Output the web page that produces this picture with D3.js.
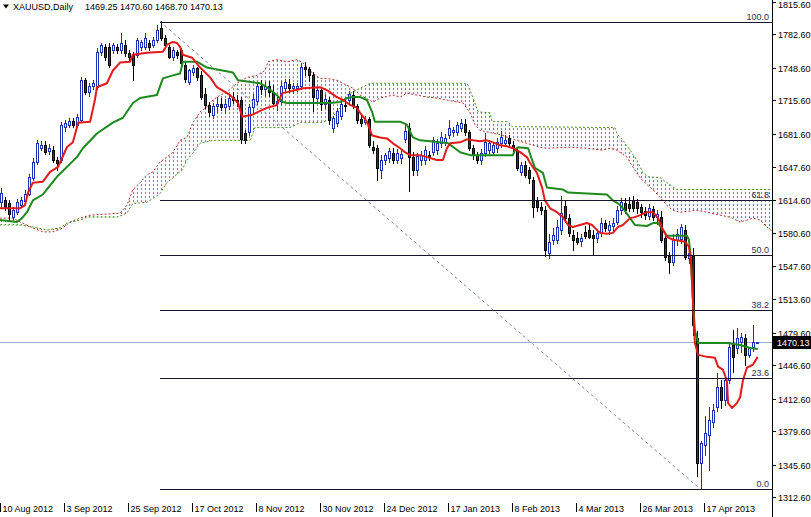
<!DOCTYPE html>
<html><head><meta charset="utf-8">
<script src="https://cdn.jsdelivr.net/npm/d3@7"></script>
<style>
html,body{margin:0;padding:0;background:#fff;}
svg{display:block;}
text{font-family:"Liberation Sans",Arial,sans-serif;}
</style></head><body>
<svg id="chart" width="811" height="517"></svg>
<script>
const symbolName = "XAUUSD,Daily";
const lastQuote = [1469.25, 1470.60, 1468.70, 1470.13];

const open = [1612,1614,1611,1597,1602,1609,1613,1621,1637,1653, 1667,1670,1664,1665,1655,1655,1689,1691,1695,1691, 1696,1736,1724,1730,1729,1765,1770,1770,1767,1770, 1767,1772,1764,1762,1762,1770,1770,1774,1772,1777, 1789,1779,1770,1760,1765,1767,1752,1734,1744,1749, 1741,1722,1711,1701,1710,1712,1709,1710,1719,1716, 1716,1682,1683,1709,1715,1730,1727,1730,1724,1713, 1715,1728,1732,1728,1728,1730,1750,1748,1741,1718, 1726,1712,1716,1688,1693,1700,1711,1716,1721,1710, 1697,1694,1697,1668,1667,1645,1655,1657,1662,1655, 1657,1676,1688,1658,1645,1655,1655,1660,1663,1665, 1672,1673,1680,1683,1683,1688,1692,1683,1667,1660, 1655,1662,1665,1663,1667,1672,1672,1677,1670,1665, 1643,1650,1645,1635,1613,1607,1604,1561,1574,1574, 1584,1608,1596,1579,1576,1573,1582,1584,1579,1576, 1581,1591,1584,1588,1592,1604,1611,1610,1614,1612, 1607,1603,1598,1605,1597,1597,1576,1558,1551,1574, 1575,1584,1555,1558,1474,1347,1365,1376,1389,1404, 1424,1411,1431,1467,1464,1470,1474,1457,1465,1469.25];
const high = [1627,1617,1614,1607,1615,1617,1625,1641,1657,1675, 1674,1674,1671,1669,1658,1694,1696,1698,1698,1702, 1739,1738,1733,1736,1769,1774,1773,1774,1774,1773, 1784,1777,1767,1765,1779,1777,1784,1777,1780,1792, 1796,1782,1772,1770,1767,1769,1756,1748,1752,1750, 1745,1728,1714,1713,1719,1718,1717,1721,1724,1721, 1719,1686,1712,1722,1733,1736,1734,1735,1731,1720, 1735,1737,1737,1733,1733,1754,1755,1750,1744,1730, 1729,1722,1719,1700,1708,1714,1717,1725,1725,1712, 1701,1700,1699,1674,1670,1660,1662,1667,1667,1666, 1665,1691,1693,1663,1662,1664,1669,1664,1678,1676, 1683,1681,1696,1689,1694,1697,1697,1686,1670,1663, 1666,1682,1675,1673,1677,1685,1680,1680,1674,1668, 1653,1654,1648,1638,1617,1612,1608,1580,1586,1594, 1618,1614,1600,1584,1582,1580,1588,1590,1584,1585, 1596,1594,1593,1596,1608,1616,1616,1617,1618,1615, 1610,1607,1610,1608,1604,1603,1580,1562,1580,1585, 1590,1589,1568,1566,1481,1370,1395,1404,1407,1439, 1431,1437,1470,1482,1484,1479,1478,1465,1487,1470.60];
const low = [1607,1604,1594,1595,1600,1607,1611,1619,1635,1651, 1665,1661,1661,1653,1645,1653,1685,1689,1689,1689, 1695,1722,1720,1727,1727,1762,1757,1750,1764,1764, 1764,1761,1757,1736,1760,1767,1768,1767,1770,1775, 1777,1769,1759,1757,1759,1752,1734,1732,1741,1736, 1717,1708,1700,1698,1704,1706,1703,1707,1713,1710, 1672,1672,1680,1703,1712,1722,1720,1720,1710,1706, 1712,1724,1724,1723,1725,1727,1741,1735,1705,1714, 1706,1708,1692,1683,1690,1697,1705,1712,1708,1693, 1690,1692,1668,1662,1635,1637,1651,1653,1652,1652, 1652,1673,1624,1640,1640,1650,1651,1655,1660,1661, 1668,1670,1677,1679,1680,1685,1680,1665,1656,1652, 1651,1659,1661,1660,1663,1668,1669,1668,1664,1645, 1640,1638,1632,1597,1603,1600,1558,1555,1570,1571, 1580,1592,1578,1564,1570,1568,1576,1576,1560,1572, 1578,1583,1580,1584,1590,1600,1601,1603,1603,1601, 1597,1595,1595,1594,1590,1572,1553,1540,1548,1569, 1571,1554,1550,1477,1334,1321,1355,1340,1384,1400, 1403,1406,1428,1440,1459,1460,1447,1455,1461,1468.70];
const close = [1622,1606,1600,1604,1612,1614,1621,1638,1653,1672, 1670,1663,1667,1655,1652,1691,1693,1695,1691,1699, 1736,1724,1730,1733,1765,1772,1760,1752,1772,1767, 1774,1764,1760,1752,1777,1775,1779,1770,1777,1787, 1779,1772,1760,1767,1762,1754,1737,1746,1749,1739, 1719,1711,1704,1710,1712,1709,1712,1718,1716,1714, 1676,1675,1709,1717,1730,1727,1730,1724,1713,1715, 1730,1734,1728,1730,1730,1750,1748,1741,1719,1726, 1712,1717,1696,1698,1705,1712,1710,1722,1710,1696, 1693,1696,1670,1665,1647,1655,1660,1664,1655,1662, 1661,1685,1658,1645,1659,1660,1665,1658,1675,1672, 1678,1677,1688,1686,1691,1693,1684,1667,1660,1655, 1662,1673,1672,1670,1673,1678,1675,1672,1668,1647, 1650,1640,1637,1607,1607,1604,1564,1572,1579,1587, 1601,1596,1581,1574,1572,1576,1578,1577,1576,1581, 1591,1586,1589,1591,1604,1612,1604,1606,1606,1606, 1602,1599,1606,1597,1600,1574,1556,1551,1574,1580, 1587,1556,1561,1487,1347,1367,1378,1391,1401,1424, 1411,1431,1465,1455,1474,1475,1457,1465,1470,1470.13];

const timeTickBars = [0,16,32,48,64,80,96,112,128,144,160,176];
const timeTickLabels = ["10 Aug 2012","3 Sep 2012","25 Sep 2012","17 Oct 2012","8 Nov 2012","30 Nov 2012","24 Dec 2012","17 Jan 2013","8 Feb 2013","4 Mar 2013","26 Mar 2013","17 Apr 2013"];
const priceTicks = [1815.60,1782.60,1748.60,1715.60,1681.60,1647.60,1614.60,1580.60,1547.60,1513.60,1479.60,1446.60,1412.60,1379.60,1345.60,1312.60];

// Ichimoku lines: [bar, price]
const tenkan = [[-0.5,1606],[4.6,1606],[5.8,1609],[6.6,1622],[7.8,1632],[10.3,1633],[12.1,1643],[14.1,1648],[16.3,1668],[17.8,1673],[19.1,1693],[22.1,1694],[23.3,1716],[23.8,1729],[26.3,1733],[27.8,1746],[29.6,1754],[32.1,1755],[32.8,1762],[36.3,1764],[40.3,1765],[41.3,1772],[42.8,1775],[43.8,1774],[44.6,1770],[45.3,1762],[47.6,1759],[49.6,1749],[52.1,1739],[53.8,1729],[56.3,1723],[57.1,1721],[59.1,1713],[60.1,1699],[62.6,1701],[64.1,1704],[66.3,1708],[68.8,1711],[69.6,1718],[70.1,1723],[71.3,1724],[73.3,1726],[75.3,1728],[79.6,1729],[81.3,1726],[83.8,1719],[85.3,1716],[87.1,1711],[88.8,1708],[89.6,1703],[91.3,1694],[92.6,1680],[94.6,1678],[96.3,1677],[97.8,1672],[99.6,1667],[100.8,1663],[102.1,1660],[104.6,1660],[106.3,1658],[108.8,1655],[110.3,1655],[111.3,1667],[112.1,1672],[114.6,1673],[116.3,1676],[119.6,1674],[121.3,1675],[122.8,1673],[124.6,1670],[126.3,1669],[127.8,1667],[129.6,1663],[131.3,1658],[132.1,1652],[133.8,1642],[135.1,1627],[135.8,1614],[137.1,1606],[138.8,1602],[140.3,1597],[141.6,1589],[142.8,1587],[144.6,1589],[146.3,1591],[147.6,1589],[148.8,1584],[149.6,1581],[151.3,1580],[152.8,1581],[154.1,1587],[155.3,1589],[157.1,1596],[158.3,1597],[159.6,1599],[161.3,1602],[162.8,1602],[164.1,1596],[165.1,1586],[166.3,1577],[167.8,1574],[169.6,1573],[170.8,1572],[171.8,1567],[172.3,1553],[172.8,1513],[173.3,1469],[174.1,1457],[176.3,1455],[178.3,1454],[179.1,1445],[180.3,1442],[181.3,1431],[181.6,1408],[182.6,1403],[183.8,1408],[184.6,1414],[185.3,1431],[186.3,1444],[187.8,1447],[189,1455]];
const kijun = [[-0.5,1594],[3.8,1592],[5.1,1596],[6.3,1602],[7.8,1614],[10.3,1620],[13.8,1638],[18.8,1658],[20.3,1667],[23.8,1682],[27.8,1693],[30.3,1698],[32.8,1713],[34.6,1718],[38.8,1721],[40.3,1738],[42.8,1741],[44.6,1743],[45.3,1755],[48.8,1755],[51.3,1749],[57.8,1744],[59.1,1736],[64.6,1733],[66.3,1729],[68.8,1721],[70.3,1714],[71.3,1713],[82.1,1713],[84.6,1714],[86.3,1718],[87.8,1719],[89.6,1719],[91.3,1716],[92.6,1704],[93.3,1694],[99.6,1694],[101.3,1691],[102.8,1678],[104.6,1675],[109.6,1673],[111.6,1672],[113.3,1667],[114.6,1663],[117.1,1660],[127.8,1660],[128.3,1665],[129.1,1668],[131.6,1667],[132.6,1655],[133.3,1647],[135.3,1642],[136.3,1627],[140.3,1625],[141.6,1622],[146.3,1621],[151.3,1620],[152.8,1614],[154.1,1611],[155.3,1606],[157.1,1596],[158.3,1589],[161.3,1588],[162.8,1591],[164.1,1591],[165.3,1584],[166.3,1578],[171.3,1578],[171.8,1574],[172.3,1556],[172.8,1513],[173.3,1482],[174.1,1469],[181.3,1469],[184.6,1467],[187.1,1464],[189,1463]];
const spanA = [[-0.5,1596],[2.8,1596],[4.6,1592],[7.8,1586],[10.3,1582],[12.8,1582],[15.3,1586],[17.1,1592],[19.6,1596],[22.1,1599],[29.6,1601],[31.3,1609],[32.8,1625],[34.6,1632],[36.3,1640],[37.8,1643],[39.6,1653],[41.3,1658],[42.8,1663],[44.6,1675],[46.3,1678],[47.8,1693],[49.6,1704],[51.3,1709],[52.8,1716],[54.6,1721],[56.3,1724],[58.8,1733],[61.3,1739],[63.8,1741],[65.8,1746],[66.6,1755],[68.8,1757],[71.3,1755],[73.8,1757],[75.3,1754],[76.3,1749],[77.8,1743],[79.6,1738],[81.3,1738],[83.8,1736],[85.3,1733],[87.8,1728],[89.6,1721],[92.8,1714],[94.6,1718],[97.8,1721],[99.6,1719],[101.3,1723],[103.8,1721],[106.3,1719],[108.8,1718],[111.3,1716],[113.8,1714],[115.3,1713],[117.1,1703],[118.3,1691],[119.6,1685],[122.1,1683],[125.3,1680],[127.1,1677],[128.8,1675],[131.3,1672],[134.6,1668],[136.3,1667],[142.1,1668],[146.3,1667],[150.3,1665],[152.1,1667],[153.8,1665],[156.3,1658],[157.8,1648],[159.6,1637],[161.3,1630],[162.8,1625],[164.6,1617],[166.3,1609],[167.8,1604],[169.6,1602],[173.8,1604],[176.3,1602],[179.6,1599],[182.1,1597],[184.6,1592],[186.3,1594],[187.8,1596],[189.6,1594],[191.3,1587],[193.5,1580]];
const spanB = [[-0.5,1589],[4.6,1589],[7.8,1587],[11.3,1584],[14.6,1586],[16.3,1591],[19.6,1594],[21.3,1597],[28.8,1597],[31.3,1601],[32.8,1611],[36.3,1612],[39.6,1621],[41.3,1632],[42.8,1637],[45.1,1645],[46.3,1655],[47.8,1662],[49.6,1672],[52.8,1675],[62.1,1675],[63.3,1688],[72.1,1688],[74.6,1693],[79.6,1693],[82.1,1696],[84.6,1708],[86.3,1721],[89.6,1728],[92.1,1733],[116.3,1733],[117.1,1726],[118.3,1713],[119.1,1704],[122.1,1703],[122.6,1694],[126.6,1694],[127.6,1689],[153.3,1688],[153.8,1682],[155.3,1675],[157.1,1665],[158.8,1655],[160.3,1642],[161.6,1638],[164.6,1637],[166.3,1632],[168.8,1625],[193.5,1625]];

const fibLevels = [0, 23.6, 38.2, 50, 61.8, 100];
const fibHigh = {bar: 40, price: 1795.7};
const fibLow = {bar: 175, price: 1321.0};
const bidPrice = 1470.13;

// ---------- layout ----------
const W = 811, H = 517, plotR = 772, plotB = 498;
const svg = d3.select("#chart");
const x = d3.scaleLinear().domain([0, 192]).range([1.7, 1.7 + 4 * 192]);
const y = d3.scaleLinear().domain([1312.6, 1815.6]).range([497, 2]);

const defs = svg.append("defs");
defs.append("clipPath").attr("id", "plotClip").append("rect")
  .attr("x", 0).attr("y", 0).attr("width", plotR).attr("height", plotB);

const ax = d => x(d[0]);
defs.append("clipPath").attr("id", "belowA").append("path")
  .attr("d", d3.area().x(ax).y0(plotB).y1(d => y(d[1]))(spanA));
defs.append("clipPath").attr("id", "aboveA").append("path")
  .attr("d", d3.area().x(ax).y0(0).y1(d => y(d[1]))(spanA));
defs.append("clipPath").attr("id", "aboveB").append("path")
  .attr("d", d3.area().x(ax).y0(0).y1(d => y(d[1]))(spanB));
defs.append("clipPath").attr("id", "belowB").append("path")
  .attr("d", d3.area().x(ax).y0(plotB).y1(d => y(d[1]))(spanB));

const plot = svg.append("g").attr("clip-path", "url(#plotClip)");

// cloud hatching: one dotted vertical line per bar slot, clipped to the cloud
const hatchBars = d3.range(0, 194);
function hatchLines(g, color) {
  g.selectAll("line").data(hatchBars).join("line")
    .attr("x1", i => Math.round(x(i) - 1.5) + 1.5).attr("x2", i => Math.round(x(i) - 1.5) + 1.5)
    .attr("y1", 0).attr("y2", plotB)
    .attr("stroke", color).attr("stroke-width", 1).attr("stroke-dasharray", "2,2");
}
const cloudG = plot.append("g");
hatchLines(cloudG.append("g").attr("clip-path", "url(#belowA)").append("g").attr("clip-path", "url(#aboveB)"), "#46b45c");
hatchLines(cloudG.append("g").attr("clip-path", "url(#aboveA)").append("g").attr("clip-path", "url(#belowB)"), "#dc5a3e");

const line = d3.line().x(ax).y(d => y(d[1]));
cloudG.append("path").attr("d", line(spanA)).attr("fill", "none")
  .attr("stroke", "#a8322a").attr("stroke-width", 1).attr("stroke-dasharray", "2,2");
cloudG.append("path").attr("d", line(spanB)).attr("fill", "none")
  .attr("stroke", "#4e8a1e").attr("stroke-width", 1).attr("stroke-dasharray", "2,2");

// bid line
plot.append("line").attr("x1", 0).attr("x2", plotR)
  .attr("y1", Math.round(y(bidPrice)) + 0.5).attr("y2", Math.round(y(bidPrice)) + 0.5)
  .attr("stroke", "#9aabc9").attr("stroke-width", 1);

// candles
const bars = d3.range(open.length);
const cg = plot.append("g");
bars.forEach(i => {
  const o = open[i], h = high[i], l = low[i], c = close[i];
  const bull = c >= o;
  const left = Math.round(x(i) - 1.5);
  const wx = left + 1.5;
  cg.append("line").attr("x1", wx).attr("x2", wx)
    .attr("y1", Math.round(y(h))).attr("y2", Math.round(y(l)) + 1)
    .attr("stroke", bull ? "#1f2fb8" : "#000").attr("stroke-width", 1);
  const top = Math.round(y(Math.max(o, c)));
  const bot = Math.round(y(Math.min(o, c)));
  cg.append("rect").attr("x", left + 0.5).attr("y", top + 0.5)
    .attr("width", 2).attr("height", Math.max(bot - top, 0))
    .attr("fill", bull ? "#ffffff" : "#7a1c1c")
    .attr("stroke", bull ? "#1f2fb8" : "#000").attr("stroke-width", 1);
});

// tenkan & kijun
plot.append("path").attr("d", line(kijun)).attr("fill", "none")
  .attr("stroke", "#1c8a1c").attr("stroke-width", 2).attr("stroke-linejoin", "round");
plot.append("path").attr("d", line(tenkan)).attr("fill", "none")
  .attr("stroke", "#e21a1a").attr("stroke-width", 2).attr("stroke-linejoin", "round");

// fibonacci
const fibG = plot.append("g");
const fx0 = Math.round(x(fibHigh.bar) - 1.7);
fibG.append("line").attr("x1", x(fibHigh.bar) - 1.7).attr("y1", y(fibHigh.price))
  .attr("x2", x(fibLow.bar) - 1.7).attr("y2", y(fibLow.price))
  .attr("stroke", "#7c86b4").attr("stroke-width", 1).attr("stroke-dasharray", "3,3");
fibLevels.forEach(L => {
  const p = fibLow.price + (fibHigh.price - fibLow.price) * L / 100;
  const yy = Math.round(y(p)) + 0.5;
  fibG.append("line").attr("x1", fx0).attr("x2", plotR).attr("y1", yy).attr("y2", yy)
    .attr("stroke", "#14142a").attr("stroke-width", 1);
  fibG.append("text").attr("x", 769).attr("y", yy - 2.5).attr("text-anchor", "end")
    .attr("font-size", 9).attr("fill", "#2c3158").text(L.toFixed(1));
});

// right price axis
const axisG = svg.append("g");
axisG.append("line").attr("x1", plotR + 0.5).attr("x2", plotR + 0.5).attr("y1", 0).attr("y2", H)
  .attr("stroke", "#000");
priceTicks.forEach((p, k) => {
  const yy = Math.round(y(p)) + 0.5;
  axisG.append("line").attr("x1", plotR).attr("x2", plotR + 4).attr("y1", yy).attr("y2", yy).attr("stroke", "#000");
  axisG.append("text").attr("x", 778).attr("y", k === 0 ? 8 : yy + 3.5).attr("font-size", 9).attr("fill", "#000")
    .text(p.toFixed(2));
});
// bid label
const by = Math.round(y(bidPrice));
axisG.append("rect").attr("x", plotR + 1).attr("y", by - 6).attr("width", W - plotR - 1).attr("height", 13).attr("fill", "#000");
axisG.append("text").attr("x", 777).attr("y", by + 4).attr("font-size", 9).attr("fill", "#fff")
  .text(bidPrice.toFixed(2));

// bottom time axis
timeTickBars.forEach((b, k) => {
  const tx = Math.round(x(b) - 1.5) + 0.5;
  axisG.append("line").attr("x1", tx).attr("x2", tx).attr("y1", 503).attr("y2", 512).attr("stroke", "#000");
  axisG.append("text").attr("x", tx + 2).attr("y", 512).attr("font-size", 9).attr("fill", "#000")
    .text(timeTickLabels[k]);
});

// header
svg.append("path").attr("d", "M3,4.5 L9,4.5 L6,8.5 Z").attr("fill", "#000");
svg.append("text").attr("x", 13).attr("y", 10).attr("font-size", 9).attr("fill", "#000").text(symbolName);
svg.append("text").attr("x", 85).attr("y", 10).attr("font-size", 9).attr("fill", "#000")
  .text(lastQuote.map(v => v.toFixed(2)).join(" "));
</script>
</body></html>
